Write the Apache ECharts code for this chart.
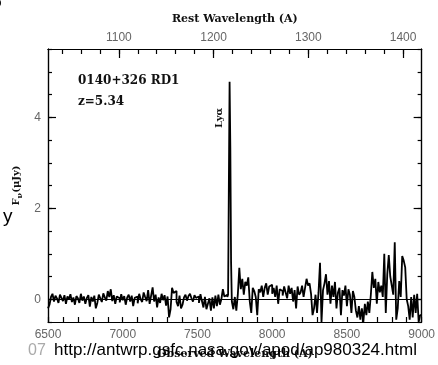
<!DOCTYPE html>
<html><head><meta charset="utf-8">
<script src="https://cdn.jsdelivr.net/npm/echarts@6/dist/echarts.min.js"></script>
<style>html,body{margin:0;padding:0;background:#fff}#c{width:438px;height:365px}</style>
</head><body><div id="c"></div>
<script>
const redshift = 5.34;
const obsStart = 6500, obsEnd = 9000, binWidth = 10;
// flux (μJy) in 10 Å bins, 6500–7690 Å
const fluxBlue = [
 -0.20,-0.12,0.05,0.12,-0.05,0.08,0.02,-0.08,0.10,0.03,
 -0.04,0.09,-0.10,0.06,0.00,0.11,-0.06,0.04,-0.12,0.07,
 0.02,-0.08,0.12,-0.03,0.06,-0.10,0.03,0.09,-0.16,0.05,
 -0.05,0.08,-0.20,-0.08,0.10,0.02,-0.06,0.13,0.04,-0.03,
 0.18,0.05,0.22,-0.04,0.09,-0.10,0.06,0.02,-0.07,0.11,
 -0.02,0.07,-0.12,0.04,0.10,-0.05,0.08,-0.15,0.03,0.06,
 -0.09,0.12,0.00,-0.06,0.15,0.05,-0.04,0.20,-0.10,0.08,
 0.26,-0.05,0.10,-0.18,0.04,-0.08,0.12,-0.02,0.09,-0.14,
 0.06,-0.40,-0.22,0.25,0.14,0.18,-0.06,-0.15,0.08,-0.20,
 -0.12,0.04,0.10,-0.03,0.07,0.12,0.02,-0.05,0.09,0.03,
 0.06,-0.08,0.11,-0.04,-0.18,0.05,-0.22,-0.10,0.02,-0.25,
 0.04,-0.20,0.08,-0.15,0.10,-0.12,0.00,0.22,0.06,0.10
];
// Lyα emission line, 5 Å bins
const lineWave = [7700,7705,7710,7715,7720,7725];
const lineFlux = [0.05,0.10,2.50,4.78,3.30,0.80];
// flux (μJy) in 10 Å bins, 7730–8990 Å
const redStart = 7730;
const fluxRed = [
 -0.05,-0.22,0.05,-0.25,0.10,0.69,0.22,
 0.45,0.10,0.38,0.30,0.48,-0.05,-0.30,0.25,0.18,0.05,
 -0.35,0.22,0.15,0.30,0.05,0.25,0.35,0.10,0.28,0.32,
 0.12,0.25,0.05,0.30,-0.10,0.22,0.18,0.08,0.28,0.15,
 0.02,0.30,0.12,0.25,-0.05,0.20,-0.20,0.28,0.10,0.15,
 0.30,0.05,0.25,0.45,0.30,0.35,0.12,-0.35,-0.20,0.10,
 -0.30,0.15,0.80,-0.50,0.20,0.35,0.55,0.10,0.40,-0.10,
 0.30,0.05,0.38,-0.20,0.15,0.25,-0.35,0.20,0.08,0.30,
 -0.15,0.22,0.10,-0.30,0.18,0.05,-0.25,-0.40,-0.15,-0.45,
 -0.20,-0.50,-0.10,-0.35,-0.05,-0.30,0.10,0.60,0.25,0.45,
 -0.10,0.38,0.15,0.30,0.05,1.00,-0.30,0.55,0.97,0.50,
 0.30,0.10,1.25,-0.45,-0.20,0.40,0.05,0.95,0.85,0.70,
 0.00,-0.15,-0.45,0.05,-0.40,0.10,-0.30,0.12,-0.50,-0.35
];
const obsLabels = [6500,7000,7500,8000,8500,9000];
const restLabels = [1100,1200,1300,1400];
const restMinor = [1040,1060,1080,1100,1120,1140,1160,1180,1200,1220,1240,1260,1280,1300,1320,1340,1360,1380,1400];
const fluxLabels = [0,2,4];
const fluxMinor = [-0.5,0,0.5,1,1.5,2,2.5,3,3.5,4,4.5,5,5.5];

const pts = [];
fluxBlue.forEach((v,i)=>pts.push([obsStart+i*binWidth, v]));
lineWave.forEach((w,i)=>pts.push([w, lineFlux[i]]));
fluxRed.forEach((v,i)=>pts.push([redStart+i*binWidth, v]));
pts.push([obsEnd, fluxRed[fluxRed.length-1]]);

const restMin = obsStart/(1+redshift), restMax = obsEnd/(1+redshift);
const gray = '#666';
const serif = 'DejaVu Serif';
const sans = 'Liberation Sans';
const plain = v => String(v);
const line = {show:true, onZero:false, lineStyle:{color:'#000', width:1.2}};

const chart = echarts.init(document.getElementById('c'), null, {renderer:'canvas'});
chart.setOption({
  animation:false,
  backgroundColor:'#fff',
  grid:{left:48, right:13, top:49, bottom:38, containLabel:false},
  xAxis:[
    {type:'value', position:'bottom', min:obsStart, max:obsEnd, interval:100,
     axisLine:line, splitLine:{show:false},
     axisTick:{inside:true, length:5, lineStyle:{color:'#000', width:1.2}},
     axisLabel:{customValues:obsLabels, formatter:plain, color:gray, fontFamily:sans, fontSize:12, margin:7},
     name:'Observed Wavelength (A)', nameLocation:'middle', nameGap:27,
     nameTextStyle:{color:'#111', fontFamily:serif, fontWeight:'bold', fontSize:11}},
    {type:'value', position:'top', min:restMin, max:restMax,
     axisLine:line, splitLine:{show:false},
     axisTick:{inside:true, length:5, customValues:restMinor, lineStyle:{color:'#000', width:1.2}},
     axisLabel:{show:false}},
    {type:'value', position:'top', min:restMin, max:restMax,
     axisLine:line, splitLine:{show:false},
     axisTick:{inside:true, length:9, customValues:restLabels, lineStyle:{color:'#000', width:1.2}},
     axisLabel:{customValues:restLabels, formatter:plain, color:gray, fontFamily:sans, fontSize:12, margin:5},
     name:'Rest Wavelength (A)', nameLocation:'middle', nameGap:24,
     nameTextStyle:{color:'#111', fontFamily:serif, fontWeight:'bold', fontSize:11}}
  ],
  yAxis:[
    {type:'value', position:'left', min:-0.5, max:5.5, interval:0.5,
     axisLine:line, splitLine:{show:false},
     axisTick:{inside:true, length:4, lineStyle:{color:'#000', width:1.2}},
     axisLabel:{customValues:fluxLabels, formatter:plain, color:gray, fontFamily:sans, fontSize:12, margin:7},
     name:'F{s|ν}(μJy)', nameLocation:'middle', nameGap:23,
     nameTextStyle:{color:'#111', fontFamily:serif, fontWeight:'bold', fontSize:10,
       rich:{s:{fontFamily:serif, fontWeight:'bold', fontSize:8, color:'#111', padding:[6,0,0,0]}}}},
    {type:'value', position:'left', min:-0.5, max:5.5,
     axisLine:line, splitLine:{show:false},
     axisTick:{inside:true, length:8, customValues:fluxLabels, lineStyle:{color:'#000', width:1.2}},
     axisLabel:{show:false}},
    {type:'value', position:'right', min:-0.5, max:5.5,
     axisLine:line, splitLine:{show:false},
     axisTick:{inside:true, length:4, customValues:fluxMinor, lineStyle:{color:'#000', width:1.2}},
     axisLabel:{show:false}},
    {type:'value', position:'right', min:-0.5, max:5.5,
     axisLine:line, splitLine:{show:false},
     axisTick:{inside:true, length:8, customValues:fluxLabels, lineStyle:{color:'#000', width:1.2}},
     axisLabel:{show:false}}
  ],
  series:[{
    type:'line', xAxisIndex:0, yAxisIndex:0, data:pts, step:'end',
    showSymbol:false, symbol:'none', clip:true,
    lineStyle:{color:'#000', width:1.8},
    markLine:{silent:true, symbol:'none', label:{show:false},
      lineStyle:{color:'#000', width:1, type:'solid'}, data:[{yAxis:0}]}
  }],
  graphic:[
    {type:'text', left:78, top:75, z:100, style:{text:'0140+326 RD1', fill:'#111', font:'bold 12px "DejaVu Serif"'}},
    {type:'text', left:78, top:96, z:100, style:{text:'z=5.34', fill:'#111', font:'bold 12px "DejaVu Serif"'}},
    {type:'text', x:214, y:128, rotation:Math.PI/2, z:100, style:{text:'Lyα', fill:'#111', font:'bold 10px "DejaVu Serif"'}},
    {type:'text', x:28, y:343, z:100, style:{text:'07', fill:'#aaa', font:'16px "Liberation Sans"'}},
    {type:'text', x:54, y:342, z:100, style:{text:'http://antwrp.gsfc.nasa.gov/apod/ap980324.html', fill:'#000', font:'17px "Liberation Sans"'}},
    {type:'text', x:3, y:207, z:100, style:{text:'y', fill:'#000', font:'19px "Liberation Sans"'}},
    {type:'text', x:-7, y:-4, z:100, style:{text:'o', fill:'#000', font:'bold 14px "Liberation Sans"'}}
  ]
});
</script></body></html>
